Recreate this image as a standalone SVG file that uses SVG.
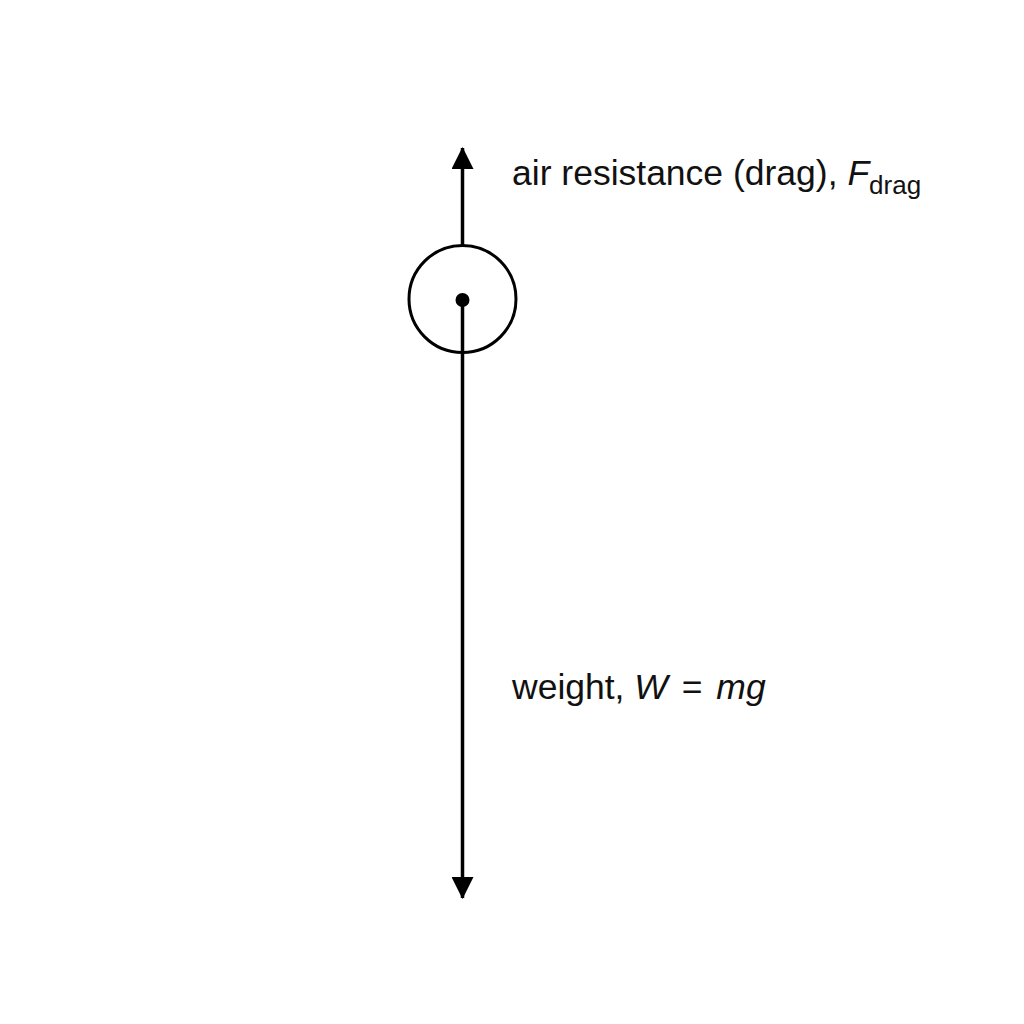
<svg xmlns="http://www.w3.org/2000/svg" width="1024" height="1024" viewBox="0 0 1024 1024">
<style>
.ln{stroke:#000;stroke-width:3.5;fill:none}
.lbl{font-family:"Liberation Sans",Arial,sans-serif;font-size:35.5px;fill:#111}
.it{font-style:italic}
</style>
<defs>
<marker id="ah" markerUnits="userSpaceOnUse" markerWidth="22" markerHeight="22" viewBox="0 0 22 22" refX="21" refY="11" orient="auto">
<path d="M0,0 L22,11 L0,22 Z" fill="#000"/>
</marker>
</defs>
<rect width="1024" height="1024" fill="#fff"/>
<g id="connectors">
<line class="ln" x1="462.5" y1="245" x2="462.5" y2="148" marker-end="url(#ah)"/>
<line class="ln" x1="462.5" y1="300" x2="462.5" y2="898" marker-end="url(#ah)"/>
</g>
<g id="body">
<circle cx="462.5" cy="299" r="53.5" fill="none" stroke="#000" stroke-width="3"/>
<circle cx="462.5" cy="300" r="7" fill="#000"/>
</g>
<g id="label-drag">
<text class="lbl" x="512" y="185">air resistance (drag), <tspan class="it">F</tspan><tspan font-size="26" dy="9">drag</tspan></text>
</g>
<g id="label-weight">
<text class="lbl" x="512" y="699">weight, <tspan class="it">W</tspan><tspan dx="4"> = </tspan><tspan class="it" dx="4">mg</tspan></text>
</g>
</svg>
